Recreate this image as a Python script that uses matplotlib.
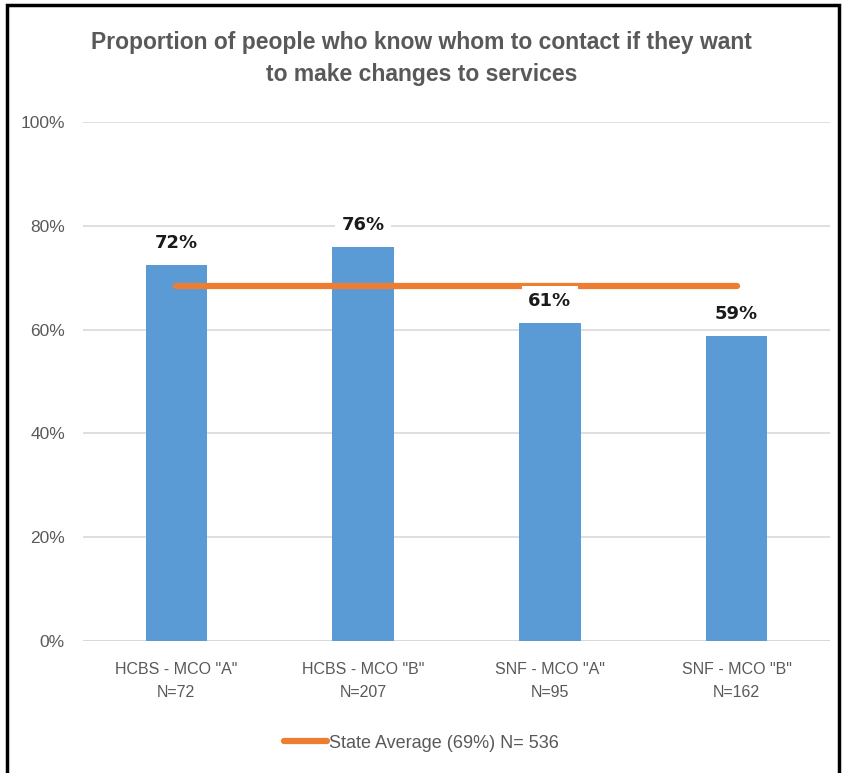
import numpy as np
import matplotlib.pyplot as plt
from matplotlib.patches import Rectangle

categories = ['HCBS - MCO "A"\nN=72', 'HCBS - MCO "B"\nN=207', 'SNF - MCO "A"\nN=95', 'SNF - MCO "B"\nN=162']
values = [0.724, 0.759, 0.613, 0.588]
value_labels = ['72%', '76%', '61%', '59%']
state_avg = [0.684, 0.684, 0.684, 0.684]
yticks = [0, 0.2, 0.4, 0.6, 0.8, 1.0]
ytick_labels = ['0%', '20%', '40%', '60%', '80%', '100%']

plt.rcParams['font.family'] = ['Liberation Sans', 'DejaVu Sans']

fig = plt.figure(figsize=(8.43, 7.73), dpi=100)
ax = fig.add_axes([83/843, 1-641/773, 747/843, 519/773])

x = np.arange(len(categories))
ax.bar(x, values, width=0.33, color='#5B9BD5', zorder=2)
ax.plot(x, state_avg, color='#ED7D31', lw=4.5, solid_capstyle='round', zorder=3,
        label='State Average (69%) N= 536')

# data labels with white boxes (they cut the gridlines / avg line like excel does)
for xi, v, lab in zip(x, values, value_labels):
    ax.text(xi, v + 0.025, lab, ha='center', va='bottom', fontsize=13, fontweight='bold',
            color='#1a1a1a', zorder=4, family='DejaVu Sans',
            bbox=dict(boxstyle='square,pad=0.35', fc='white', ec='none'))

ax.set_xlim(-0.5, 3.5)
ax.set_ylim(0, 1.0)
ax.set_yticks(yticks)
ax.set_yticklabels(ytick_labels)
ax.set_xticks(x)
ax.set_xticklabels(categories, linespacing=1.7)
ax.tick_params(axis='both', length=0, labelcolor='#595959')
ax.tick_params(axis='y', pad=13, labelsize=12.5)
ax.tick_params(axis='x', pad=15, labelsize=11.5)
ax.grid(axis='y', color='#D9D9D9', lw=1.2, zorder=0)
for s in ax.spines.values():
    s.set_visible(False)
ax.axhline(0, color='#D9D9D9', lw=1.5, zorder=1)

fig.text(0.5, 1-59/773, 'Proportion of people who know whom to contact if they want\nto make changes to services',
         ha='center', va='center', fontsize=16.5, fontweight='bold', color='#595959', linespacing=1.5)

fig.legend(loc='center', bbox_to_anchor=(0.5, 1-743/773), frameon=False, fontsize=13,
           labelcolor='#595959', handlelength=2.4, handletextpad=0.1)

# outer frame
fig.patches.append(Rectangle((7/843, -0.05), 832/843, 1.05 - 5/773, transform=fig.transFigure,
                             fill=False, ec='black', lw=2.5))

fig.savefig('out.png', dpi=100)
